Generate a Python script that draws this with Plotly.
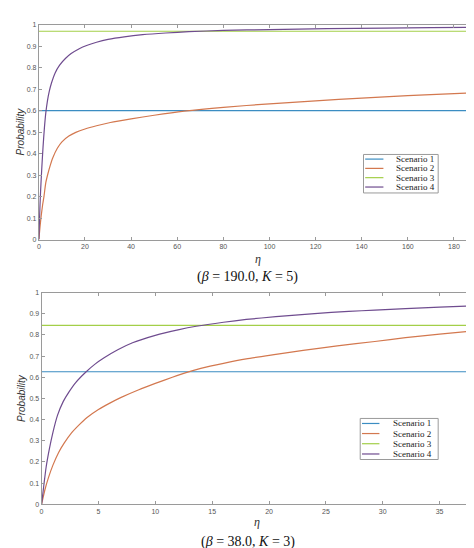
import plotly.graph_objects as go

W, H = 474, 548

names = ["Scenario 1", "Scenario 2", "Scenario 3", "Scenario 4"]
colors = ["#3b8dc2", "#d3784f", "#a3cf48", "#6f4c8f"]

# ---- top panel (beta = 190.0, K = 5) ----
top_eta_const = [0, 190]
top_s1 = [0.600, 0.600]
top_s3 = [0.970, 0.970]
top_eta_s2 = [0, 0.5, 1, 1.6, 2.2, 3, 4, 5, 6, 8, 10, 13, 16, 20, 25, 31, 40, 50, 63,
              80, 100, 120, 140, 160, 175, 190]
top_s2 = [0, 0.06, 0.11, 0.16, 0.20, 0.265, 0.31, 0.348, 0.38, 0.425, 0.455, 0.482, 0.499,
          0.515, 0.530, 0.545, 0.562, 0.579, 0.598, 0.616, 0.632, 0.646, 0.659, 0.670, 0.677, 0.684]
top_eta_s4 = [0, 0.3, 0.6, 0.9, 1.3, 1.8, 2.4, 3.0, 3.7, 4.5, 5.5, 7, 9, 11.5, 14, 17.5, 21, 25,
              30, 37, 45, 55, 65, 80, 100, 125, 150, 170, 190]
top_s4 = [0, 0.10, 0.19, 0.26, 0.34, 0.43, 0.52, 0.59, 0.645, 0.69, 0.73, 0.775, 0.812, 0.843,
          0.866, 0.889, 0.905, 0.919, 0.932, 0.944, 0.954, 0.962, 0.968, 0.974, 0.978, 0.982,
          0.985, 0.987, 0.988]
top_xticks = [0, 20, 40, 60, 80, 100, 120, 140, 160, 180]

# ---- bottom panel (beta = 38.0, K = 3) ----
bot_eta_const = [0, 38]
bot_s1 = [0.626, 0.626]
bot_s3 = [0.845, 0.845]
bot_eta_s2 = [0, 0.3, 0.6, 1, 1.5, 2, 2.6, 3.3, 4, 5, 6, 7, 8.5, 10, 11.5, 12.7, 14, 16, 18,
              20.6, 23, 26, 29.3, 32, 35, 38]
bot_s2 = [0, 0.07, 0.125, 0.185, 0.245, 0.29, 0.335, 0.375, 0.41, 0.448, 0.478, 0.505, 0.54,
          0.571, 0.600, 0.622, 0.642, 0.666, 0.687, 0.708, 0.727, 0.748, 0.769, 0.787, 0.804, 0.819]
bot_eta_s4 = [0, 0.2, 0.4, 0.7, 1, 1.4, 1.9, 2.4, 3, 3.9, 4.7, 5.5, 6.7, 8, 10, 12, 13.6, 16,
              18, 20.6, 24, 27, 29.3, 32, 35, 38]
bot_s4 = [0, 0.09, 0.175, 0.265, 0.34, 0.42, 0.485, 0.53, 0.575, 0.625, 0.662, 0.692, 0.730,
          0.763, 0.798, 0.824, 0.841, 0.86, 0.873, 0.886, 0.901, 0.911, 0.917, 0.924, 0.931, 0.937]
bot_xticks = [0, 5, 10, 15, 20, 25, 30, 35]

yticks = [0, 0.1, 0.2, 0.3, 0.4, 0.5, 0.6, 0.7, 0.8, 0.9, 1]
ytext = ["0", "0.1", "0.2", "0.3", "0.4", "0.5", "0.6", "0.7", "0.8", "0.9", "1"]

captions = ["(<i>β</i> = 190.0, <i>K</i> = 5)", "(<i>β</i> = 38.0, <i>K</i> = 3)"]


def px(x):
    return x / W


def py(y):
    return 1 - y / H


fig = go.Figure()

panels = [
    ("x", "y", [(top_eta_const, top_s1), (top_eta_s2, top_s2), (top_eta_const, top_s3), (top_eta_s4, top_s4)]),
    ("x2", "y2", [(bot_eta_const, bot_s1), (bot_eta_s2, bot_s2), (bot_eta_const, bot_s3), (bot_eta_s4, bot_s4)]),
]
for xa, ya, series in panels:
    for i, (ex, ey) in enumerate(series):
        fig.add_trace(go.Scatter(x=ex, y=ey, mode="lines", name=names[i], xaxis=xa, yaxis=ya,
                                 line=dict(color=colors[i], width=1.2, shape="spline", smoothing=0.6),
                                 showlegend=False))

axis_common = dict(showline=True, linecolor="#9a9a9a", linewidth=1, mirror="ticks",
                   ticks="inside", ticklen=3, tickcolor="#9a9a9a", showgrid=False, zeroline=False,
                   tickfont=dict(family="Liberation Sans, Arial", size=7, color="#555555"))

fig.update_layout(
    width=W, height=H, margin=dict(l=0, r=0, t=0, b=0),
    paper_bgcolor="white", plot_bgcolor="white", showlegend=False,
    xaxis=dict(domain=[px(29), px(469)], range=[0, 190], tickvals=top_xticks, anchor="y", **axis_common),
    yaxis=dict(domain=[py(230.5), py(13)], range=[0, 1], tickvals=yticks, ticktext=ytext, anchor="x", **axis_common),
    xaxis2=dict(domain=[px(31.7), px(465.7)], range=[0, 38], tickvals=bot_xticks, anchor="y2", **axis_common),
    yaxis2=dict(domain=[py(498.7), py(284.2)], range=[0, 1], tickvals=yticks, ticktext=ytext, anchor="x2", **axis_common),
)

annotations = []
shapes = []
# axis titles and captions
for (cy_eta, cy_cap, cy_prob, cx_eta, cap) in [(250, 268, 121, 249, captions[0]),
                                               (516.5, 536.5, 391, 248.5, captions[1])]:
    annotations.append(dict(x=px(cx_eta), y=py(cy_eta), xref="paper", yref="paper", text="<i>η</i>",
                            showarrow=False, xanchor="center", yanchor="middle",
                            font=dict(family="Liberation Serif", size=12, color="#333333")))
    annotations.append(dict(x=px(239), y=py(cy_cap), xref="paper", yref="paper", text=cap,
                            showarrow=False, xanchor="center", yanchor="middle",
                            font=dict(family="Liberation Serif", size=14, color="#111111")))
    annotations.append(dict(x=px(11), y=py(cy_prob), xref="paper", yref="paper", text="<i>Probability</i>",
                            showarrow=False, textangle=-90, xanchor="center", yanchor="middle",
                            font=dict(family="Liberation Sans, Arial", size=10, color="#333333")))

# legends (one per panel)
legend_boxes = [
    dict(x0=355, x1=430, y0=144.3, y1=183.3, lx0=356.7, lx1=375, tx=385.5, ys=[149, 158.4, 167.8, 177.3]),
    dict(x0=351.7, x1=430, y0=411.7, y1=453.3, lx0=353.5, lx1=371, tx=382.5, ys=[416.8, 427, 437.3, 447.7]),
]
for lb in legend_boxes:
    shapes.append(dict(type="rect", xref="paper", yref="paper", x0=px(lb["x0"]), x1=px(lb["x1"]),
                       y0=py(lb["y1"]), y1=py(lb["y0"]), line=dict(color="#9a9a9a", width=1),
                       fillcolor="white", layer="above"))
    for i, yy in enumerate(lb["ys"]):
        shapes.append(dict(type="line", xref="paper", yref="paper", x0=px(lb["lx0"]), x1=px(lb["lx1"]),
                           y0=py(yy), y1=py(yy), line=dict(color=colors[i], width=1.2), layer="above"))
        annotations.append(dict(x=px(lb["tx"]), y=py(yy), xref="paper", yref="paper", text=names[i],
                                showarrow=False, xanchor="left", yanchor="middle",
                                font=dict(family="Liberation Serif", size=9, color="#222222")))

fig.update_layout(annotations=annotations, shapes=shapes)
fig.write_html("out.html")
